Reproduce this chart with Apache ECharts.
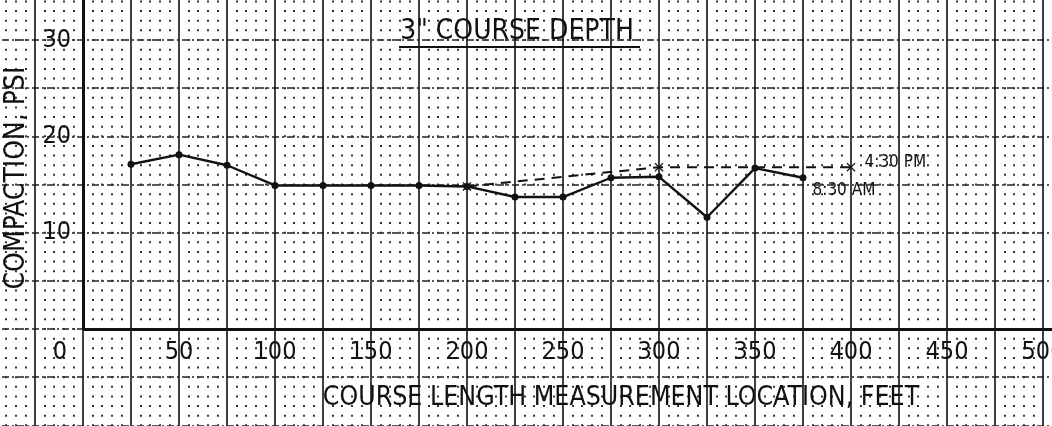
<!DOCTYPE html>
<html>
<head>
<meta charset="utf-8">
<script src="https://cdn.jsdelivr.net/npm/echarts@6/dist/echarts.min.js"></script>
<style>
  html, body { margin: 0; padding: 0; background: #fff; }
  #chart { width: 1052px; height: 426px; }
</style>
</head>
<body>
<div id="chart"></div>
<script>
// Compaction readings along the course (feet, psi)
const locationsAM = [25, 50, 75, 100, 125, 150, 175, 200, 225, 250, 275, 300, 325, 350, 375];
const psiAM       = [17.1, 18.1, 17.0, 14.9, 14.9, 14.9, 14.9, 14.8, 13.7, 13.7, 15.7, 15.8, 11.6, 16.7, 15.7];
const locationsPM = [200, 300, 400];
const psiPM       = [14.8, 16.8, 16.8];
const seriesNames = ['8:30 AM', '4:30 PM'];

const xTickLabels = [50, 100, 150, 200, 250, 300, 350, 400, 450, 500];
const yTickLabels = [10, 20, 30];
const titleText = '3" COURSE DEPTH';
const xTitle = 'COURSE LENGTH MEASUREMENT LOCATION, FEET';
const yTitle = 'COMPACTION, PSI';

// Graph-paper extent: the grid covers the whole sheet, axes cross at (0, 0)
const X_MIN = -50, X_MAX = 525, X_STEP = 25;
const Y_MIN = -15, Y_MAX = 35, Y_STEP = 5;
const PX_X = 48 / 25;          // pixels per foot
const PX_Y = 289 / 30;         // pixels per psi
const ORIGIN = [83, 329];

const INK = '#111';
const FONT = "'Liberation Sans Narrow', 'DejaVu Sans Condensed', 'Liberation Sans', sans-serif";

const pairs = (xs, ys) => xs.map((x, i) => [x, ys[i]]);
const amData = pairs(locationsAM, psiAM);
const pmData = pairs(locationsPM, psiPM);

// end-of-line annotations
amData[amData.length - 1] = {
  value: amData[amData.length - 1],
  label: { show: true, position: 'right', offset: [1, 13], formatter: seriesNames[0] }
};
pmData[pmData.length - 1] = {
  value: pmData[pmData.length - 1],
  label: { show: true, position: 'right', offset: [4, -5], formatter: seriesNames[1] }
};

const crossMark = 'path://M0,1L1,0L5,4L9,0L10,1L6,5L10,9L9,10L5,6L1,10L0,9L4,5Z';

const chart = echarts.init(document.getElementById('chart'), null, { renderer: 'canvas' });

chart.setOption({
  backgroundColor: '#fff',
  animation: false,
  grid: {
    left: ORIGIN[0] + X_MIN * PX_X,
    top: ORIGIN[1] - Y_MAX * PX_Y,
    width: (X_MAX - X_MIN) * PX_X,
    height: (Y_MAX - Y_MIN) * PX_Y,
    containLabel: false,
    outerBoundsMode: 'none'
  },
  xAxis: {
    type: 'value',
    position: 'bottom',
    offset: Y_MIN * PX_Y,            // pull the axis up to y = 0
    min: X_MIN, max: X_MAX, interval: X_STEP,
    axisLine: { show: false, onZero: false },
    axisTick: { show: false },
    axisLabel: {
      margin: 11,
      color: INK,
      fontFamily: FONT,
      fontSize: 25,
      formatter: v => v === 0 ? '{o|0}' : (xTickLabels.includes(v) ? String(v) : ''),
      rich: { o: { fontFamily: FONT, fontSize: 25, color: INK, padding: [0, 46, 0, 0] } }
    },
    splitLine: { show: true, lineStyle: { color: INK, width: 1.6, type: 'solid' } },
    minorTick: { show: false, splitNumber: 5 },
    minorSplitLine: {
      show: true,
      lineStyle: { color: '#333', width: 2, type: [2, PX_Y - 2], dashOffset: 1 }
    }
  },
  yAxis: {
    type: 'value',
    position: 'left',
    offset: X_MIN * PX_X,            // pull the axis right to x = 0
    min: Y_MIN, max: Y_MAX, interval: Y_STEP,
    axisLine: { show: false, onZero: false },
    axisTick: { show: false },
    axisLabel: {
      margin: 12,
      color: INK,
      fontFamily: FONT,
      fontSize: 25,
      formatter: v => yTickLabels.includes(v) ? String(v) : ''
    },
    splitLine: { show: true, lineStyle: { color: '#222', width: 1.5, type: [7, 3, 2, 3] } }
  },
  graphic: [
    {
      type: 'text', z: 10, x: 517, y: 32,
      style: { text: titleText, font: `28px ${FONT}`, fill: INK, align: 'center', verticalAlign: 'middle' }
    },
    {
      type: 'line', z: 10,
      shape: { x1: 399, y1: 47, x2: 640, y2: 47 },
      style: { stroke: INK, lineWidth: 2 }
    },
    {
      type: 'text', z: 10, x: 621, y: 398,
      style: { text: xTitle, font: `26.5px ${FONT}`, fill: INK, align: 'center', verticalAlign: 'middle' }
    },
    {
      type: 'text', z: 10, x: 17, y: 178, rotation: Math.PI / 2,
      style: { text: yTitle, font: `28px ${FONT}`, fill: INK, align: 'center', verticalAlign: 'middle' }
    }
  ],
  series: [
    {
      name: seriesNames[0],
      type: 'line',
      data: amData,
      symbol: 'circle',
      symbolSize: 7,
      itemStyle: { color: INK },
      lineStyle: { color: INK, width: 2.4 },
      label: { color: INK, fontFamily: FONT, fontSize: 17 },
      z: 5,
      markLine: {
        silent: true,
        symbol: 'none',
        label: { show: false },
        lineStyle: { color: INK, width: 3, type: 'solid' },
        data: [
          [{ coord: [0, 0] }, { coord: [X_MAX, 0] }],
          [{ coord: [0, 0] }, { coord: [0, Y_MAX] }]
        ]
      }
    },
    {
      name: seriesNames[1],
      type: 'line',
      data: pmData,
      symbol: crossMark,
      symbolSize: 9,
      itemStyle: { color: INK },
      lineStyle: { color: INK, width: 2, type: [10, 7] },
      label: { color: INK, fontFamily: FONT, fontSize: 17 },
      z: 4
    }
  ]
});
</script>
</body>
</html>
